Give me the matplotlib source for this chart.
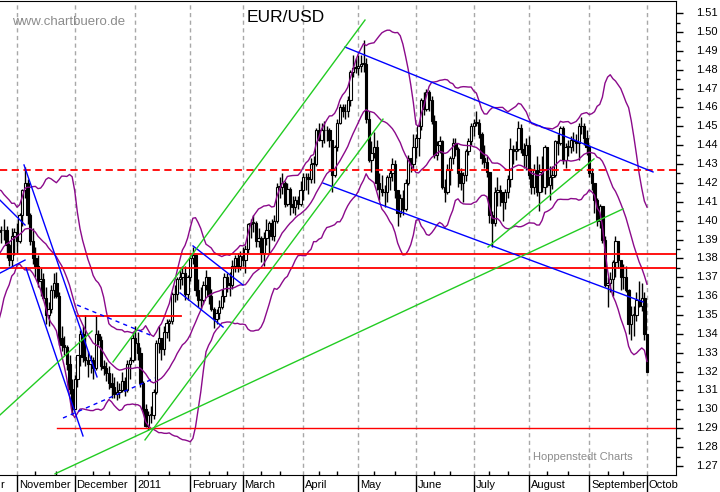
import numpy as np
import pandas as pd
import matplotlib
matplotlib.use('Agg')
import matplotlib.pyplot as plt

plt.rcParams['font.family'] = ['Liberation Sans', 'DejaVu Sans']

# Tage (Forex, Mo-Fr) von 20.09.2010 bis 03.10.2011
dias = pd.bdate_range('2010-09-20', '2011-10-03')

# Hoch / Tief / Schluss je Tag, eine Zeile = eine Woche
hi = [
    1.3110, 1.3270, 1.3400, 1.3400, 1.3500,  # Sep 20
    1.3510, 1.3610, 1.3660, 1.3700, 1.3800,  # Sep 27
    1.3790, 1.3860, 1.3950, 1.4030, 1.3990,  # Oct 4
    1.3980, 1.3950, 1.4000, 1.4160, 1.4150,  # Oct 11
    1.3990, 1.3930, 1.3980, 1.4030, 1.3970,  # Oct 18
    1.4010, 1.3970, 1.3880, 1.3960, 1.3960,  # Oct 25
    1.3990, 1.4040, 1.4170, 1.4282, 1.4220,  # Nov 1
    1.4040, 1.3960, 1.3860, 1.3820, 1.3750,  # Nov 8
    1.3720, 1.3650, 1.3570, 1.3660, 1.3720,  # Nov 15
    1.3730, 1.3620, 1.3440, 1.3390, 1.3340,  # Nov 22
    1.3290, 1.3160, 1.3180, 1.3290, 1.3420,  # Nov 29
    1.3440, 1.3500, 1.3310, 1.3290, 1.3280,  # Dec 6
    1.3500, 1.3420, 1.3390, 1.3260, 1.3250,  # Dec 13
    1.3230, 1.3190, 1.3170, 1.3150, 1.3140,  # Dec 20
    1.3200, 1.3170, 1.3260, 1.3280, 1.3410,  # Dec 27
    1.3440, 1.3410, 1.3330, 1.3150, 1.3030,  # Jan 3
    1.2990, 1.3020, 1.3110, 1.3370, 1.3440,  # Jan 10
    1.3360, 1.3440, 1.3480, 1.3480, 1.3620,  # Jan 17
    1.3660, 1.3700, 1.3740, 1.3760, 1.3760,  # Jan 24
    1.3710, 1.3820, 1.3860, 1.3820, 1.3690,  # Jan 31
    1.3650, 1.3680, 1.3740, 1.3700, 1.3640,  # Feb 7
    1.3540, 1.3530, 1.3580, 1.3640, 1.3720,  # Feb 14
    1.3720, 1.3730, 1.3790, 1.3820, 1.3830,  # Feb 21
    1.3840, 1.3860, 1.3870, 1.3990, 1.4010,  # Feb 28
    1.4030, 1.4000, 1.3960, 1.3920, 1.3940,  # Mar 7
    1.4010, 1.4000, 1.4010, 1.4030, 1.4200,  # Mar 14
    1.4230, 1.4250, 1.4210, 1.4200, 1.4180,  # Mar 21
    1.4130, 1.4130, 1.4130, 1.4210, 1.4250,  # Mar 28
    1.4250, 1.4250, 1.4330, 1.4340, 1.4490,  # Apr 4
    1.4520, 1.4520, 1.4530, 1.4500, 1.4490,  # Apr 11
    1.4420, 1.4400, 1.4540, 1.4620, 1.4620,  # Apr 18
    1.4620, 1.4660, 1.4800, 1.4880, 1.4860,  # Apr 25
    1.4880, 1.4880, 1.4955, 1.4860, 1.4580,  # May 2
    1.4420, 1.4470, 1.4430, 1.4250, 1.4240,  # May 9
    1.4190, 1.4240, 1.4270, 1.4330, 1.4320,  # May 16
    1.4150, 1.4140, 1.4160, 1.4220, 1.4350,  # May 23
    1.4330, 1.4460, 1.4460, 1.4510, 1.4650,  # May 30
    1.4680, 1.4700, 1.4690, 1.4660, 1.4560,  # Jun 6
    1.4420, 1.4450, 1.4430, 1.4220, 1.4300,  # Jun 13
    1.4340, 1.4440, 1.4440, 1.4390, 1.4280,  # Jun 20
    1.4260, 1.4380, 1.4440, 1.4520, 1.4540,  # Jun 27
    1.4580, 1.4540, 1.4470, 1.4400, 1.4340,  # Jul 4
    1.4240, 1.4050, 1.4180, 1.4230, 1.4190,  # Jul 11
    1.4150, 1.4170, 1.4240, 1.4440, 1.4400,  # Jul 18
    1.4420, 1.4530, 1.4510, 1.4410, 1.4440,  # Jul 25
    1.4450, 1.4280, 1.4300, 1.4340, 1.4300,  # Aug 1
    1.4340, 1.4400, 1.4390, 1.4290, 1.4290,  # Aug 8
    1.4430, 1.4460, 1.4500, 1.4500, 1.4410,  # Aug 15
    1.4430, 1.4450, 1.4470, 1.4460, 1.4520,  # Aug 22
    1.4550, 1.4520, 1.4480, 1.4400, 1.4280,  # Aug 29
    1.4190, 1.4120, 1.4090, 1.4080, 1.3920,  # Sep 5
    1.3700, 1.3730, 1.3790, 1.3920, 1.3890,  # Sep 12
    1.3780, 1.3770, 1.3760, 1.3640, 1.3550,  # Sep 19
    1.3550, 1.3620, 1.3680, 1.3670, 1.3620,  # Sep 26
    1.3400,                                  # Oct 3
]
lo = [
    1.3020, 1.3050, 1.3220, 1.3280, 1.3300,
    1.3420, 1.3440, 1.3560, 1.3560, 1.3610,
    1.3660, 1.3670, 1.3820, 1.3860, 1.3830,
    1.3870, 1.3780, 1.3920, 1.3990, 1.3940,
    1.3810, 1.3700, 1.3730, 1.3890, 1.3880,
    1.3900, 1.3800, 1.3760, 1.3760, 1.3820,
    1.3830, 1.3880, 1.3970, 1.4120, 1.3980,
    1.3870, 1.3770, 1.3700, 1.3650, 1.3600,
    1.3580, 1.3450, 1.3440, 1.3510, 1.3590,
    1.3590, 1.3340, 1.3310, 1.3290, 1.3210,
    1.3080, 1.2970, 1.3000, 1.3120, 1.3230,
    1.3250, 1.3230, 1.3170, 1.3190, 1.3160,
    1.3210, 1.3340, 1.3210, 1.3180, 1.3150,
    1.3110, 1.3060, 1.3060, 1.3050, 1.3060,
    1.3090, 1.3070, 1.3090, 1.3160, 1.3250,
    1.3260, 1.3260, 1.3120, 1.2980, 1.2905,
    1.2890, 1.2930, 1.2950, 1.3080, 1.3300,
    1.3260, 1.3290, 1.3380, 1.3360, 1.3450,
    1.3570, 1.3580, 1.3640, 1.3660, 1.3580,
    1.3580, 1.3680, 1.3770, 1.3600, 1.3540,
    1.3530, 1.3560, 1.3630, 1.3560, 1.3520,
    1.3430, 1.3450, 1.3480, 1.3530, 1.3570,
    1.3620, 1.3600, 1.3640, 1.3730, 1.3730,
    1.3740, 1.3760, 1.3720, 1.3830, 1.3910,
    1.3940, 1.3860, 1.3860, 1.3780, 1.3760,
    1.3870, 1.3830, 1.3900, 1.3890, 1.3990,
    1.4120, 1.4140, 1.4070, 1.4080, 1.4030,
    1.4040, 1.4030, 1.4060, 1.4080, 1.4110,
    1.4160, 1.4140, 1.4200, 1.4200, 1.4290,
    1.4420, 1.4390, 1.4410, 1.4420, 1.4390,
    1.4150, 1.4230, 1.4370, 1.4510, 1.4550,
    1.4540, 1.4550, 1.4610, 1.4760, 1.4780,
    1.4770, 1.4790, 1.4790, 1.4520, 1.4310,
    1.4260, 1.4330, 1.4160, 1.4110, 1.4130,
    1.4070, 1.4100, 1.4160, 1.4210, 1.4120,
    1.3970, 1.4020, 1.4030, 1.4050, 1.4190,
    1.4260, 1.4280, 1.4330, 1.4340, 1.4480,
    1.4560, 1.4580, 1.4580, 1.4510, 1.4330,
    1.4320, 1.4360, 1.4170, 1.4100, 1.4140,
    1.4190, 1.4300, 1.4340, 1.4180, 1.4160,
    1.4100, 1.4210, 1.4350, 1.4400, 1.4450,
    1.4500, 1.4440, 1.4300, 1.4280, 1.4230,
    1.3990, 1.3860, 1.3970, 1.4080, 1.4080,
    1.4000, 1.4060, 1.4120, 1.4180, 1.4300,
    1.4320, 1.4370, 1.4360, 1.4280, 1.4270,
    1.4220, 1.4140, 1.4140, 1.4130, 1.4050,
    1.4150, 1.4140, 1.4180, 1.4110, 1.4170,
    1.4230, 1.4350, 1.4400, 1.4300, 1.4280,
    1.4340, 1.4360, 1.4370, 1.4360, 1.4320,
    1.4460, 1.4400, 1.4350, 1.4230, 1.4160,
    1.4040, 1.3970, 1.3960, 1.3880, 1.3650,
    1.3540, 1.3620, 1.3600, 1.3700, 1.3750,
    1.3630, 1.3640, 1.3620, 1.3400, 1.3370,
    1.3390, 1.3470, 1.3540, 1.3520, 1.3370,
    1.3200,
]
cl = [
    1.3090, 1.3240, 1.3380, 1.3310, 1.3490,
    1.3480, 1.3600, 1.3630, 1.3630, 1.3780,
    1.3680, 1.3840, 1.3920, 1.3880, 1.3970,
    1.3890, 1.3940, 1.4000, 1.4120, 1.3970,
    1.3880, 1.3740, 1.3940, 1.3950, 1.3950,
    1.3950, 1.3870, 1.3790, 1.3920, 1.3940,
    1.3890, 1.4030, 1.4160, 1.4200, 1.4030,
    1.3890, 1.3800, 1.3760, 1.3680, 1.3690,
    1.3590, 1.3500, 1.3530, 1.3630, 1.3670,
    1.3600, 1.3380, 1.3340, 1.3330, 1.3240,
    1.3110, 1.3000, 1.3160, 1.3290, 1.3400,
    1.3280, 1.3260, 1.3240, 1.3260, 1.3220,
    1.3400, 1.3370, 1.3230, 1.3220, 1.3190,
    1.3140, 1.3120, 1.3080, 1.3090, 1.3100,
    1.3150, 1.3100, 1.3240, 1.3260, 1.3380,
    1.3350, 1.3300, 1.3140, 1.3000, 1.2910,
    1.2970, 1.2970, 1.3090, 1.3350, 1.3380,
    1.3320, 1.3410, 1.3460, 1.3470, 1.3610,
    1.3610, 1.3690, 1.3700, 1.3720, 1.3610,
    1.3700, 1.3800, 1.3820, 1.3630, 1.3580,
    1.3580, 1.3660, 1.3700, 1.3600, 1.3530,
    1.3480, 1.3510, 1.3540, 1.3600, 1.3700,
    1.3670, 1.3660, 1.3760, 1.3800, 1.3760,
    1.3810, 1.3790, 1.3850, 1.3980, 1.3990,
    1.3990, 1.3890, 1.3910, 1.3830, 1.3910,
    1.3950, 1.3990, 1.3920, 1.4000, 1.4180,
    1.4180, 1.4200, 1.4090, 1.4170, 1.4090,
    1.4070, 1.4110, 1.4090, 1.4160, 1.4230,
    1.4230, 1.4220, 1.4300, 1.4300, 1.4480,
    1.4430, 1.4480, 1.4480, 1.4480, 1.4430,
    1.4240, 1.4390, 1.4520, 1.4600, 1.4580,
    1.4580, 1.4640, 1.4790, 1.4810, 1.4810,
    1.4820, 1.4830, 1.4830, 1.4540, 1.4320,
    1.4360, 1.4390, 1.4200, 1.4170, 1.4150,
    1.4150, 1.4230, 1.4250, 1.4300, 1.4160,
    1.4040, 1.4120, 1.4060, 1.4200, 1.4330,
    1.4300, 1.4390, 1.4440, 1.4500, 1.4640,
    1.4590, 1.4680, 1.4640, 1.4530, 1.4350,
    1.4400, 1.4420, 1.4180, 1.4150, 1.4270,
    1.4330, 1.4410, 1.4380, 1.4250, 1.4200,
    1.4240, 1.4370, 1.4420, 1.4500, 1.4520,
    1.4520, 1.4460, 1.4330, 1.4310, 1.4260,
    1.4030, 1.3990, 1.4150, 1.4160, 1.4150,
    1.4100, 1.4150, 1.4220, 1.4380, 1.4370,
    1.4380, 1.4490, 1.4380, 1.4350, 1.4400,
    1.4240, 1.4180, 1.4270, 1.4150, 1.4260,
    1.4180, 1.4390, 1.4190, 1.4230, 1.4240,
    1.4420, 1.4410, 1.4490, 1.4320, 1.4390,
    1.4390, 1.4430, 1.4420, 1.4410, 1.4500,
    1.4500, 1.4440, 1.4390, 1.4250, 1.4200,
    1.4110, 1.4000, 1.4080, 1.3900, 1.3660,
    1.3670, 1.3690, 1.3780, 1.3890, 1.3790,
    1.3700, 1.3700, 1.3630, 1.3450, 1.3500,
    1.3500, 1.3580, 1.3550, 1.3590, 1.3400,
    1.3200,
]

# Monatsnamen an der x-Achse (links nur das "r" von October sichtbar, rechts abgeschnitten)
monate = ['r', 'November', 'December', '2011', 'February', 'March', 'April',
          'May', 'June', 'July', 'August', 'September', 'Octob']

# Preisskala rechts
preise = [1.27, 1.28, 1.29, 1.30, 1.31, 1.32, 1.33, 1.34, 1.35, 1.36, 1.37, 1.38, 1.39,
          1.40, 1.41, 1.42, 1.43, 1.44, 1.45, 1.46, 1.47, 1.48, 1.49, 1.50, 1.51]

# Horizontale Linien (Preis)
rot_gestrichelt = 1.4268
rot_voll = [1.3823, 1.3749]
rot_kurz = (22.9, 62.5, 1.3495)
rot_boden = (15.2, 1.2900)

# Trendlinien (Tag ab 01.11.2010, Preis) -> (Tag, Preis)
blau = [
    (-6.5, 1.4109, 3.05, 1.3977),
    (-6.5, 1.3722, 3.05, 1.3791),
    (2.67, 1.4295, 30.48, 1.3172),
    (3.43, 1.3749, 25.14, 1.2859),
    (67.05, 1.3866, 86.1, 1.3659),
    (62.1, 1.3617, 78.5, 1.3436),
    (124.95, 1.4920, 242.3, 1.4258),
    (116.6, 1.4199, 238.5, 1.3569),
]
blau_gestrichelt = [
    (22.86, 1.3553, 50.67, 1.3394),
    (17.52, 1.2954, 52.57, 1.3166),
]
gruen = [
    (36.57, 1.3251, 132.57, 1.5063),
    (-6.5, 1.2970, 28.57, 1.3415),
    (48.76, 1.2838, 139.43, 1.4538),
    (14.48, 1.2658, 230.86, 1.4062),
    (179.43, 1.3860, 219.8, 1.4327),
]

hi = np.array(hi)
lo = np.array(lo)
cl = np.array(cl)
op = np.r_[cl[0], cl[:-1]]
x = np.arange(len(dias)) - dias.get_loc(pd.Timestamp('2010-11-01'))

# Bollinger-Bänder 20 Tage
s = pd.Series(cl)
mitte = s.rolling(20).mean()
sd = s.rolling(20).std(ddof=0)
oben = mitte + 2 * sd
unten = mitte - 2 * sd

# Monatsanfänge
ym = dias.year * 100 + dias.month
starts = [x[np.argmax(ym == v)] for v in np.unique(ym)][1:]

fig = plt.figure(figsize=(7.2, 4.92), dpi=100)
ax = fig.add_axes([0, 17 / 492, 676 / 720, 474 / 492])

for m in starts:
    ax.axvline(m, color='#a8a8a8', lw=1, dashes=(3, 2.5), zorder=0)

# Kerzen
ax.vlines(x, lo, hi, color='black', lw=1, zorder=2)
auf = cl >= op
hoehe = np.maximum(np.abs(cl - op), 0.0003)
ax.bar(x[auf], hoehe[auf], bottom=op[auf], width=0.9, facecolor='white',
       edgecolor='black', lw=0.8, zorder=3)
ax.bar(x[~auf], hoehe[~auf], bottom=cl[~auf], width=0.9, facecolor='black',
       edgecolor='black', lw=0.8, zorder=3)

# Bänder
for b in (oben, mitte, unten):
    ax.plot(x, b, color='#8b0a8b', lw=1, zorder=4)

# Linien
ax.axhline(rot_gestrichelt, color='#ff0000', lw=1.3, dashes=(4, 2.5), zorder=5)
for p in rot_voll:
    ax.axhline(p, color='#ff0000', lw=1.3, zorder=5)
ax.plot([rot_kurz[0], rot_kurz[1]], [rot_kurz[2], rot_kurz[2]], color='#ff0000', lw=1.3, zorder=5)
ax.plot([rot_boden[0], 260], [rot_boden[1], rot_boden[1]], color='#ff0000', lw=1, zorder=5)
for x0, p0, x1, p1 in blau:
    ax.plot([x0, x1], [p0, p1], color='#0000ff', lw=1, zorder=5)
for x0, p0, x1, p1 in blau_gestrichelt:
    ax.plot([x0, x1], [p0, p1], color='#0000ff', lw=1, dashes=(3, 3), zorder=5)
for x0, p0, x1, p1 in gruen:
    ax.plot([x0, x1], [p0, p1], color='#22cc22', lw=1, zorder=5)

ax.spines['left'].set_visible(False)
ax.yaxis.tick_right()
ax.set_yticks(preise)
ax.set_yticks(np.array(preise) - 0.005, minor=True)
ax.set_yticklabels([])
ax.tick_params(axis='y', which='major', length=5, width=1)
ax.tick_params(axis='y', which='minor', length=3, width=1)

ax.set_xticks(starts)
ax.set_xticklabels([])
ax.tick_params(axis='x', which='major', length=12.5, width=1, direction='out')
kleine = [x[np.argmax(dias >= pd.Timestamp(f'{d.year}-{d.month:02d}-{t}'))]
          for d in pd.date_range('2010-10-01', '2011-09-30', freq='MS') for t in (10, 20)]
ax.set_xticks(kleine, minor=True)
ax.tick_params(axis='x', which='minor', length=3, width=1, direction='in')

# Grenzen erst nach den Ticks setzen
ax.set_xlim(-6.48, 251.05)
ax.set_ylim(1.2652, 1.5164)

# Preisbeschriftung rechts
ty = ax.get_yaxis_transform()
for p in preise:
    ax.text(696 / 676, p, f'{p:.2f}', transform=ty, fontsize=8, ha='left', va='center',
            clip_on=False)

tr = ax.get_xaxis_transform()
for m, name in zip(starts, monate):
    if name == 'r':
        ax.text(0.0, -0.021, name, transform=ax.transAxes, fontsize=8, ha='left',
                va='center', clip_on=False)
    else:
        ax.text(m + 0.7, -0.021, name, transform=tr, fontsize=8, ha='left', va='center',
                clip_on=False)

fig.text(12 / 720, 1 - 22 / 492, 'www.chartbuero.de', fontsize=9.5, color='#8c8c8c',
         ha='left', va='center')
fig.text(286 / 720, 1 - 18 / 492, 'EUR/USD', fontsize=12.5, color='black',
         ha='center', va='center')
fig.text(533 / 720, 1 - 457 / 492, 'Hoppenstedt Charts', fontsize=8, color='#8c8c8c',
         ha='left', va='center')

fig.savefig('out.png', dpi=100)
